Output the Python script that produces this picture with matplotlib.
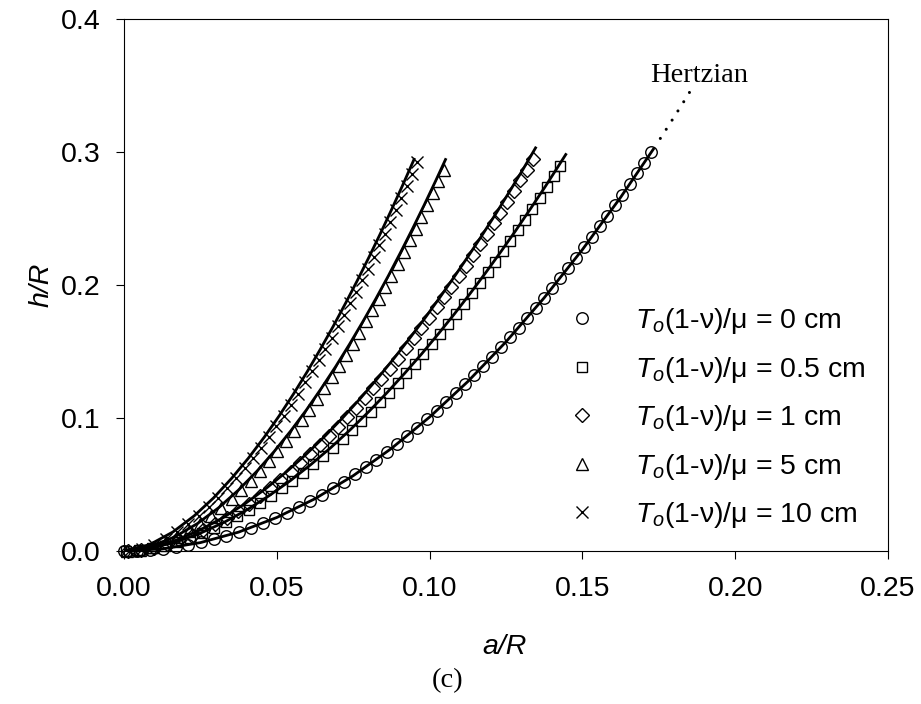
import matplotlib
matplotlib.use("Agg")
import matplotlib.pyplot as plt

plt.rcParams['font.family'] = ['Liberation Sans', 'DejaVu Sans']
plt.rcParams['mathtext.fontset'] = 'custom'
plt.rcParams['mathtext.rm'] = 'Liberation Sans'
plt.rcParams['mathtext.it'] = 'Liberation Sans:italic'

# ---------------- data ----------------
labels = [r'$T_o$(1-ν)/μ = 0 cm', r'$T_o$(1-ν)/μ = 0.5 cm', r'$T_o$(1-ν)/μ = 1 cm',
          r'$T_o$(1-ν)/μ = 5 cm', r'$T_o$(1-ν)/μ = 10 cm']
x_ticks = [0.00, 0.05, 0.10, 0.15, 0.20, 0.25]
y_ticks = [0.0, 0.1, 0.2, 0.3, 0.4]

# T(1-v)/mu = 0 cm (circles)
circ_a = [0.0000, 0.0042, 0.0085, 0.0127, 0.0169, 0.0211, 0.0253, 0.0294, 0.0335, 0.0376,
          0.0416, 0.0456, 0.0495, 0.0534, 0.0572, 0.0610, 0.0647, 0.0684, 0.0720, 0.0756,
          0.0791, 0.0825, 0.0859, 0.0893, 0.0926, 0.0959, 0.0991, 0.1023, 0.1054, 0.1085,
          0.1116, 0.1146, 0.1176, 0.1205, 0.1234, 0.1263, 0.1291, 0.1319, 0.1347, 0.1374,
          0.1401, 0.1428, 0.1454, 0.1480, 0.1506, 0.1532, 0.1557, 0.1582, 0.1607, 0.1631,
          0.1655, 0.1679, 0.1703, 0.1726]
circ_h = [0.0000, 0.0002, 0.0007, 0.0016, 0.0029, 0.0045, 0.0064, 0.0087, 0.0113, 0.0142,
          0.0174, 0.0209, 0.0247, 0.0287, 0.0330, 0.0375, 0.0422, 0.0471, 0.0522, 0.0576,
          0.0630, 0.0685, 0.0743, 0.0803, 0.0864, 0.0926, 0.0989, 0.1054, 0.1119, 0.1186,
          0.1254, 0.1323, 0.1393, 0.1462, 0.1533, 0.1606, 0.1678, 0.1752, 0.1827, 0.1901,
          0.1977, 0.2054, 0.2129, 0.2206, 0.2284, 0.2363, 0.2441, 0.2520, 0.2601, 0.2679,
          0.2758, 0.2839, 0.2921, 0.3000]
circ_fit_a = [0, 0.0125, 0.025, 0.0375, 0.05, 0.0625, 0.075, 0.0875, 0.1, 0.1125, 0.125,
              0.1375, 0.15, 0.1625, 0.1735]
circ_fit_h = [0, 0.0016, 0.0063, 0.0142, 0.0252, 0.0393, 0.0566, 0.0771, 0.1007, 0.1274,
              0.1573, 0.1904, 0.2266, 0.2659, 0.3031]
hertz_a = [0.1755, 0.1780, 0.1805, 0.1830, 0.1852]
hertz_h = [0.3102, 0.3191, 0.3281, 0.3372, 0.3454]

# 0.5 cm (squares)
sq_a = [0.0006, 0.0049, 0.0091, 0.0133, 0.0174, 0.0215, 0.0255, 0.0294, 0.0333, 0.0371,
        0.0408, 0.0445, 0.0481, 0.0516, 0.0551, 0.0585, 0.0618, 0.0651, 0.0683, 0.0715,
        0.0746, 0.0777, 0.0807, 0.0837, 0.0866, 0.0895, 0.0924, 0.0952, 0.0980, 0.1007,
        0.1034, 0.1061, 0.1087, 0.1113, 0.1139, 0.1165, 0.1190, 0.1215, 0.1240, 0.1264,
        0.1288, 0.1312, 0.1336, 0.1360, 0.1383, 0.1406, 0.1428]
sq_h = [0.0000, 0.0006, 0.0020, 0.0040, 0.0066, 0.0097, 0.0133, 0.0171, 0.0215, 0.0261,
        0.0309, 0.0362, 0.0416, 0.0472, 0.0530, 0.0590, 0.0651, 0.0715, 0.0778, 0.0845,
        0.0911, 0.0980, 0.1048, 0.1119, 0.1189, 0.1261, 0.1335, 0.1408, 0.1482, 0.1556,
        0.1631, 0.1707, 0.1782, 0.1859, 0.1937, 0.2016, 0.2094, 0.2173, 0.2253, 0.2331,
        0.2410, 0.2491, 0.2573, 0.2655, 0.2735, 0.2817, 0.2896]
sq_fit_a = [0, 0.0085, 0.0168, 0.0249, 0.0327, 0.0402, 0.0475, 0.0545, 0.0612, 0.0677,
            0.0740, 0.0801, 0.0860, 0.0918, 0.0974, 0.1028, 0.1081, 0.1133, 0.1184, 0.1234,
            0.1282, 0.1330, 0.1377, 0.1422, 0.1448]
sq_fit_h = [0, 0.0020, 0.0066, 0.0133, 0.0215, 0.0309, 0.0416, 0.0530, 0.0651, 0.0778,
            0.0911, 0.1048, 0.1189, 0.1335, 0.1482, 0.1631, 0.1782, 0.1937, 0.2094, 0.2253,
            0.2410, 0.2573, 0.2735, 0.2896, 0.2990]

# 1 cm (diamonds)
dm_a = [0.0013, 0.0056, 0.0098, 0.0140, 0.0181, 0.0221, 0.0260, 0.0298, 0.0336, 0.0373,
        0.0409, 0.0444, 0.0478, 0.0512, 0.0545, 0.0577, 0.0609, 0.0640, 0.0671, 0.0701,
        0.0730, 0.0759, 0.0787, 0.0815, 0.0842, 0.0869, 0.0896, 0.0922, 0.0948, 0.0973,
        0.0998, 0.1023, 0.1047, 0.1071, 0.1095, 0.1119, 0.1142, 0.1165, 0.1188, 0.1210,
        0.1232, 0.1254, 0.1276, 0.1297, 0.1318, 0.1339]
dm_h = [0.0000, 0.0007, 0.0024, 0.0049, 0.0079, 0.0115, 0.0156, 0.0200, 0.0249, 0.0301,
        0.0356, 0.0413, 0.0471, 0.0533, 0.0596, 0.0660, 0.0727, 0.0795, 0.0865, 0.0935,
        0.1005, 0.1078, 0.1149, 0.1223, 0.1296, 0.1371, 0.1447, 0.1523, 0.1600, 0.1675,
        0.1752, 0.1831, 0.1908, 0.1986, 0.2066, 0.2146, 0.2225, 0.2305, 0.2386, 0.2465,
        0.2544, 0.2625, 0.2708, 0.2787, 0.2867, 0.2948]
dm_fit_a = [0, 0.0085, 0.0168, 0.0247, 0.0323, 0.0396, 0.0465, 0.0532, 0.0596, 0.0658,
            0.0717, 0.0774, 0.0829, 0.0883, 0.0935, 0.0985, 0.1034, 0.1082, 0.1129, 0.1175,
            0.1219, 0.1263, 0.1305, 0.1349]
dm_fit_h = [0, 0.0024, 0.0079, 0.0156, 0.0249, 0.0356, 0.0471, 0.0596, 0.0727, 0.0865,
            0.1005, 0.1149, 0.1296, 0.1447, 0.1600, 0.1752, 0.1908, 0.2066, 0.2225, 0.2386,
            0.2544, 0.2708, 0.2867, 0.3040]

# 5 cm (triangles)
tr_a = [0.0010, 0.0053, 0.0095, 0.0136, 0.0175, 0.0213, 0.0250, 0.0285, 0.0319, 0.0352,
        0.0384, 0.0415, 0.0445, 0.0474, 0.0502, 0.0529, 0.0556, 0.0582, 0.0607, 0.0632,
        0.0656, 0.0680, 0.0703, 0.0726, 0.0748, 0.0770, 0.0792, 0.0813, 0.0834, 0.0855,
        0.0875, 0.0895, 0.0915, 0.0935, 0.0954, 0.0973, 0.0992, 0.1011, 0.1029, 0.1047]
tr_h = [0.0000, 0.0009, 0.0032, 0.0065, 0.0105, 0.0152, 0.0206, 0.0263, 0.0324, 0.0389,
        0.0457, 0.0528, 0.0600, 0.0675, 0.0750, 0.0825, 0.0904, 0.0983, 0.1061, 0.1143,
        0.1224, 0.1306, 0.1388, 0.1472, 0.1555, 0.1639, 0.1726, 0.1810, 0.1896, 0.1984,
        0.2069, 0.2156, 0.2245, 0.2335, 0.2422, 0.2510, 0.2600, 0.2691, 0.2779, 0.2868]
tr_fit_a = [0, 0.0085, 0.0165, 0.0240, 0.0309, 0.0374, 0.0435, 0.0492, 0.0546, 0.0597,
            0.0646, 0.0693, 0.0738, 0.0782, 0.0824, 0.0865, 0.0905, 0.0944, 0.0982, 0.1019,
            0.1054]
tr_fit_h = [0, 0.0032, 0.0105, 0.0206, 0.0324, 0.0457, 0.0600, 0.0750, 0.0904, 0.1061,
            0.1224, 0.1388, 0.1555, 0.1726, 0.1896, 0.2069, 0.2245, 0.2422, 0.2600, 0.2779,
            0.2953]

# 10 cm (crosses)
cr_a = [0.0015, 0.0058, 0.0099, 0.0138, 0.0175, 0.0211, 0.0245, 0.0277, 0.0308, 0.0338,
        0.0367, 0.0395, 0.0422, 0.0448, 0.0474, 0.0499, 0.0523, 0.0547, 0.0570, 0.0593,
        0.0615, 0.0637, 0.0658, 0.0679, 0.0700, 0.0720, 0.0740, 0.0760, 0.0779, 0.0798,
        0.0817, 0.0836, 0.0854, 0.0872, 0.0890, 0.0908, 0.0926, 0.0943, 0.0960]
cr_h = [0.0000, 0.0015, 0.0048, 0.0091, 0.0143, 0.0202, 0.0265, 0.0330, 0.0399, 0.0471,
        0.0546, 0.0621, 0.0698, 0.0775, 0.0856, 0.0937, 0.1017, 0.1100, 0.1182, 0.1267,
        0.1350, 0.1435, 0.1519, 0.1604, 0.1691, 0.1776, 0.1863, 0.1951, 0.2036, 0.2123,
        0.2211, 0.2301, 0.2387, 0.2475, 0.2564, 0.2654, 0.2746, 0.2834, 0.2923]
cr_fit_a = [0, 0.0084, 0.0160, 0.0230, 0.0293, 0.0352, 0.0407, 0.0459, 0.0508, 0.0555,
            0.0600, 0.0643, 0.0685, 0.0725, 0.0764, 0.0802, 0.0839, 0.0875, 0.0911, 0.0945,
            0.0951]
cr_fit_h = [0, 0.0048, 0.0143, 0.0265, 0.0399, 0.0546, 0.0698, 0.0856, 0.1017, 0.1182,
            0.1350, 0.1519, 0.1691, 0.1863, 0.2036, 0.2211, 0.2387, 0.2564, 0.2746, 0.2923,
            0.2955]

# ---------------- plot ----------------
W, H = 921, 704
fig = plt.figure(figsize=(W / 100, H / 100), dpi=100)
ax = fig.add_axes([124 / W, 1 - 551 / H, (888 - 124) / W, (551 - 19) / H])

FS = 20.5
mew = 1.0
series = [
    (circ_a, circ_h, 'o', 8.3),
    (sq_a, sq_h, 's', 7.8),
    (dm_a, dm_h, 'D', 6.8),
    (tr_a, tr_h, '^', 9.2),
    (cr_a, cr_h, 'x', 8.0),
]
handles = []
for (xa, yh, mk, ms), lab in zip(series, labels):
    h, = ax.plot(xa, yh, linestyle='none', marker=mk, markersize=ms,
                 markerfacecolor='none', markeredgecolor='black',
                 markeredgewidth=mew, label=lab, clip_on=False, zorder=2)
    handles.append(h)

for xa, yh in [(circ_fit_a, circ_fit_h), (sq_fit_a, sq_fit_h), (dm_fit_a, dm_fit_h),
               (tr_fit_a, tr_fit_h), (cr_fit_a, cr_fit_h)]:
    ax.plot(xa, yh, color='black', linewidth=2.0, solid_capstyle='butt', zorder=3)

ax.plot(hertz_a, hertz_h, color='black', linewidth=2.2,
        linestyle=(0, (0.01, 3.55)), dash_capstyle='round', zorder=3)
ax.text(0.1722, 0.3572, 'Hertzian', family=['Liberation Serif'], fontsize=20.5,
        ha='left', va='center')

ax.set_xlim(0, 0.25)
ax.set_ylim(0, 0.4)
ax.set_xticks(x_ticks)
ax.set_yticks(y_ticks)
ax.set_xticklabels([f'{v:.2f}' for v in x_ticks])
ax.set_yticklabels([f'{v:.1f}' for v in y_ticks])
ax.tick_params(axis='both', direction='out', length=5.8, width=0.8, labelsize=FS)
ax.tick_params(axis='x', pad=12)
ax.tick_params(axis='y', pad=11)
ax.minorticks_off()
for sp in ax.spines.values():
    sp.set_linewidth(0.8)

ax.set_xlabel('a/R', fontsize=FS, style='italic', va='center')
ax.set_ylabel('h/R', fontsize=FS, style='italic', va='center')
ax.xaxis.set_label_coords((505 - 124) / 764, (551 - 647) / 532)
ax.yaxis.set_label_coords((42 - 124) / 764, (551 - 285) / 532)

fig.text(448 / W, 1 - 681 / H, '(c)', family=['Liberation Serif'], fontsize=FS,
         ha='center', va='center')

leg = ax.legend(handles=handles, loc='upper left',
                bbox_to_anchor=(567.75 / W, 1 - 306 / H), bbox_transform=fig.transFigure,
                frameon=False, fontsize=FS, handlelength=1.0, handletextpad=1.36,
                labelspacing=0.65, borderpad=0, borderaxespad=0, numpoints=1)

fig.savefig('out.png', dpi=100)
